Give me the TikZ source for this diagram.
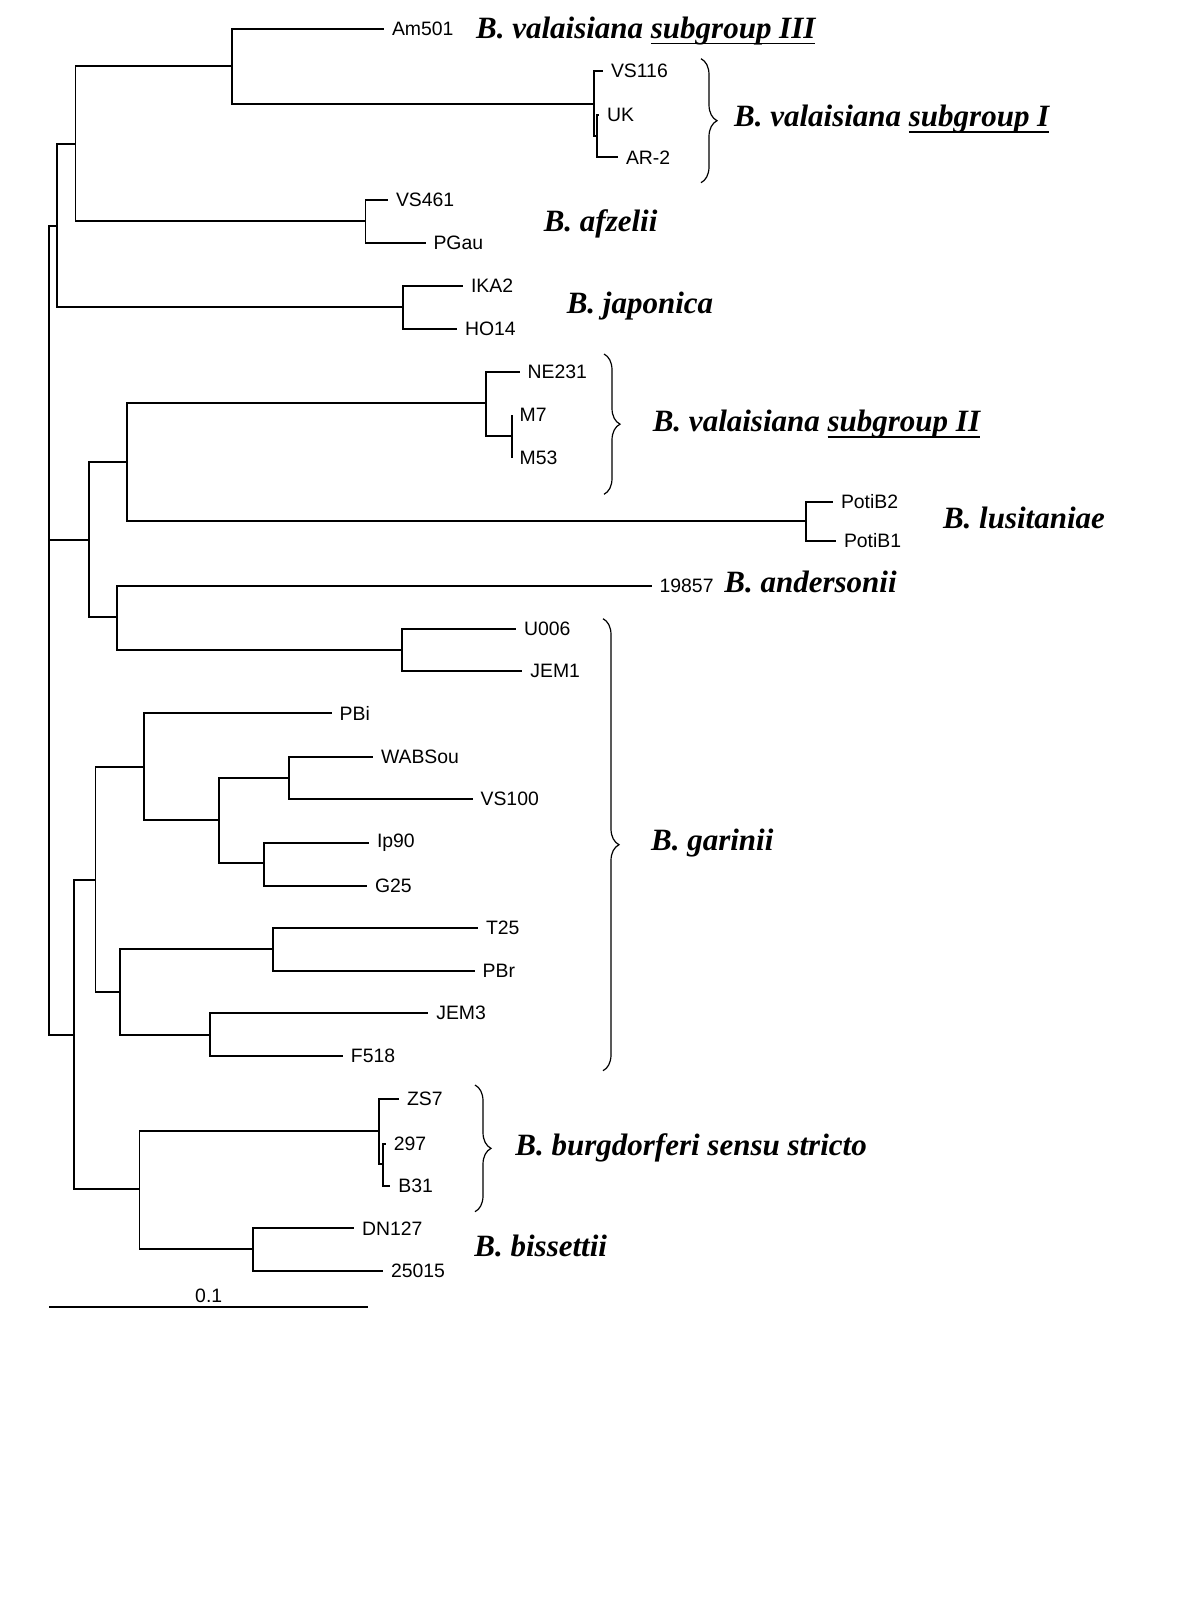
\documentclass[tikz,border=0pt]{standalone}
\usepackage{fontspec}
\setmainfont{Liberation Serif}
\newfontfamily\leaffont{Liberation Sans}
\usetikzlibrary{decorations.pathreplacing}
\newcommand{\subgrp}[1]{\setbox0\hbox{#1}\rlap{\rule[-3pt]{\wd0}{0.8pt}}\box0}

\begin{document}
\begin{tikzpicture}[x=0.5pt, y=-0.5pt,
  branch/.style={line width=0.9pt},
  leaflab/.style={font=\leaffont\fontsize{9.7}{11}\selectfont, inner sep=2pt},
  leafend/.style={label={[leaflab, label distance=1.8pt]right:#1}},
  taxon/.style={anchor=base west, inner sep=0pt, font=\fontsize{15.5}{18}\selectfont\bfseries\itshape},
  bracket/.style={decorate, decoration={brace, amplitude=8pt}, line width=0.6pt}]
\useasboundingbox (0,0) rectangle (1200,1600);

% inner nodes
\coordinate (root) at (49,540.3);
\coordinate (A) at (56.6,225.7);
\coordinate (B) at (75.4,144);
\coordinate (C) at (232,66.3);
\coordinate (sgI) at (594,104);
\coordinate (ukar) at (596.7,136);
\coordinate (afz) at (365.5,221);
\coordinate (jap) at (403,306.7);
\coordinate (D) at (88.8,540.3);
\coordinate (E) at (127,462);
\coordinate (sgII) at (486,403.3);
\coordinate (mm) at (511.7,435.7);
\coordinate (lus) at (805.8,521.3);
\coordinate (F) at (116.7,617.3);
\coordinate (uj) at (401.8,650);
\coordinate (G) at (73.8,1035);
\coordinate (H) at (95.4,880);
\coordinate (J) at (143.9,767.3);
\coordinate (K) at (219.3,820.3);
\coordinate (L) at (289,778.3);
\coordinate (M) at (264,863.3);
\coordinate (N) at (120.2,992.3);
\coordinate (O) at (272.8,949.3);
\coordinate (P) at (210.2,1035);
\coordinate (I) at (139.5,1189.3);
\coordinate (bss) at (378.9,1131);
\coordinate (bb) at (383,1164);
\coordinate (bis) at (253,1249.3);

% leaves
\coordinate[leafend=Am501] (am501) at (384,29.3);
\coordinate[leafend=VS116] (vs116) at (603,71.3);
\coordinate[leafend=UK] (uk) at (599,115);
\coordinate[leafend=AR-2] (ar2) at (618,157.3);
\coordinate[leafend=VS461] (vs461) at (388,200.3);
\coordinate[leafend=PGau] (pgau) at (425.5,243.3);
\coordinate[leafend=IKA2] (ika2) at (463,285.7);
\coordinate[leafend=HO14] (ho14) at (457,329);
\coordinate[leafend=NE231] (ne231) at (519.7,372.3);
\coordinate[leafend=M7] (m7) at (511.7,415);
\coordinate[leafend=M53] (m53) at (511.7,457.7);
\coordinate[leafend=PotiB2] (potib2) at (833,501.7);
\coordinate[leafend=PotiB1] (potib1) at (836,541);
\coordinate[leafend=19857] (s19857) at (651.6,585.7);
\coordinate[leafend=U006] (u006) at (516,629);
\coordinate[leafend=JEM1] (jem1) at (522.4,671);
\coordinate[leafend=PBi] (pbi) at (331.7,713.3);
\coordinate[leafend=WABSou] (wabsou) at (373,757.3);
\coordinate[leafend=VS100] (vs100) at (472.6,799);
\coordinate[leafend=Ip90] (ip90) at (369,842.7);
\coordinate[leafend=G25] (g25) at (367,885.7);
\coordinate[leafend=T25] (t25) at (478,927.7);
\coordinate[leafend=PBr] (pbr) at (474.7,971);
\coordinate[leafend=JEM3] (jem3) at (428.3,1013.3);
\coordinate[leafend=F518] (f518) at (342.9,1056);
\coordinate[leafend=ZS7] (zs7) at (399,1099.3);
\coordinate[leafend=297] (s297) at (385.8,1144);
\coordinate[leafend=B31] (b31) at (390.4,1185.7);
\coordinate[leafend=DN127] (dn127) at (354,1228.3);
\coordinate[leafend=25015] (s25015) at (383,1270.7);

% branches
\draw[branch] (root) |- (A) (root) |- (D) (root) |- (G);
\draw[branch] (A) |- (B) (A) |- (jap) (B) |- (C) (B) |- (afz);
\draw[branch] (C) |- (am501) (C) |- (sgI) (sgI) |- (vs116) (sgI) |- (ukar);
\draw[branch] (ukar) |- (uk) (ukar) |- (ar2);
\draw[branch] (afz) |- (vs461) (afz) |- (pgau) (jap) |- (ika2) (jap) |- (ho14);
\draw[branch] (D) |- (E) (D) |- (F) (E) |- (sgII) (E) |- (lus);
\draw[branch] (sgII) |- (ne231) (sgII) |- (mm) (mm) |- (m7) (mm) |- (m53);
\draw[branch] (lus) |- (potib2) (lus) |- (potib1);
\draw[branch] (F) |- (s19857) (F) |- (uj) (uj) |- (u006) (uj) |- (jem1);
\draw[branch] (G) |- (H) (G) |- (I) (H) |- (J) (H) |- (N);
\draw[branch] (J) |- (pbi) (J) |- (K) (K) |- (L) (K) |- (M);
\draw[branch] (L) |- (wabsou) (L) |- (vs100) (M) |- (ip90) (M) |- (g25);
\draw[branch] (N) |- (O) (N) |- (P) (O) |- (t25) (O) |- (pbr) (P) |- (jem3) (P) |- (f518);
\draw[branch] (I) |- (bss) (I) |- (bis) (bss) |- (zs7) (bss) |- (bb);
\draw[branch] (bb) |- (s297) (bb) |- (b31) (bis) |- (dn127) (bis) |- (s25015);

% braces
\draw[bracket] (701,58.7) -- (701,182.7);
\draw[bracket] (604,354) -- (604,494.3);
\draw[bracket] (603,618.7) -- (603,1070.7);
\draw[bracket] (475,1085) -- (475,1211.7);

% species
\node[taxon] (vsIII) at (475.7,38.3) {B. valaisiana \subgrp{subgroup III}};
\node[taxon] (vsI) at (733.7,126.7) {B. valaisiana \subgrp{subgroup I}};
\node[taxon] (afzelii) at (543.4,231.7) {B. afzelii};
\node[taxon] (japonica) at (566.4,313) {B. japonica};
\node[taxon] (vsII) at (652.4,431.7) {B. valaisiana \subgrp{subgroup II}};
\node[taxon] (lusitaniae) at (942.6,528.3) {B. lusitaniae};
\node[taxon] (andersonii) at (724,592.3) {B. andersonii};
\node[taxon] (garinii) at (650.7,850) {B. garinii};
\node[taxon] (burgdorferi) at (515,1155) {B. burgdorferi sensu stricto};
\node[taxon] (bissettii) at (474,1256.7) {B. bissettii};

% scale bar
\coordinate (sb1) at (49.4,1307.3);
\coordinate (sb2) at (368,1307.3);
\draw[branch] (sb1) -- node[leaflab, above] (sblab) {0.1} (sb2);
\end{tikzpicture}
\end{document}
